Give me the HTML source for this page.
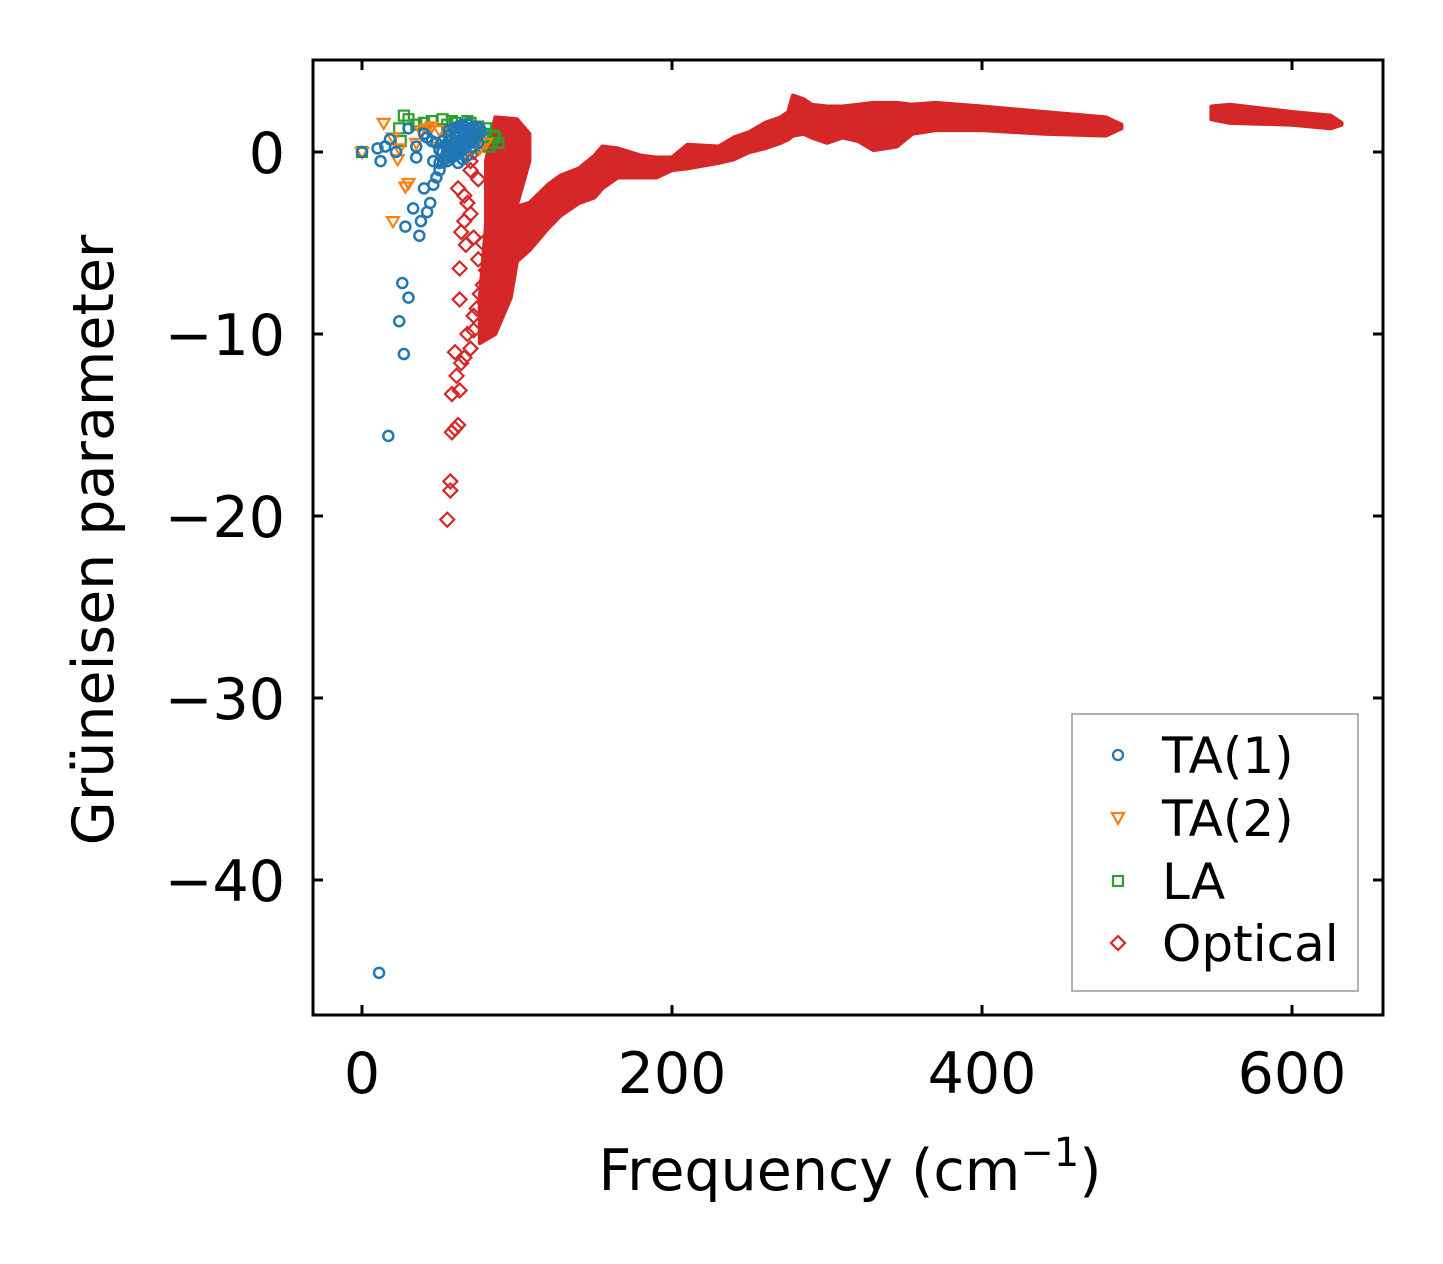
<!DOCTYPE html>
<html><head><meta charset="utf-8"><style>
body{margin:0;background:#fff;}
svg{display:block;font-family:"DejaVu Sans","Liberation Sans",sans-serif;}
</style></head><body>
<svg id="chart" width="1443" height="1264" viewBox="0 0 1443 1264" xmlns="http://www.w3.org/2000/svg">
<g id="plot"></g>
<rect x="313" y="60" width="1070" height="955" fill="none" stroke="#000" stroke-width="3"/>
<g id="ticks"></g>
<text x="850" y="1190" font-size="57" text-anchor="middle">Frequency (cm<tspan dy="-24" font-size="40">−1</tspan><tspan dy="24">)</tspan></text>
<text transform="translate(113,540) rotate(-90)" font-size="57" text-anchor="middle">Grüneisen parameter</text>
<g>
<rect x="1072" y="714" width="286" height="277" fill="#fff" stroke="#999" stroke-width="1.5"/>
<circle cx="1118" cy="755" r="5" fill="none" stroke="#1f77b4" stroke-width="2.2"/>
<text x="1162" y="773" font-size="50">TA(1)</text>
<path d="M1112,813 L1124,813 L1118,824 Z" fill="none" stroke="#ff7f0e" stroke-width="2.2"/>
<text x="1162" y="836" font-size="50">TA(2)</text>
<rect x="1113" y="876" width="10" height="10" fill="none" stroke="#2ca02c" stroke-width="2.2"/>
<text x="1162" y="899" font-size="50">LA</text>
<path d="M1118,936 L1125,943 L1118,950 L1111,943 Z" fill="none" stroke="#d62728" stroke-width="2.2"/>
<text x="1162" y="961" font-size="50">Optical</text>
</g>
</svg>
<script>
const xTicks=[0,200,400,600];
const yTicks=[0,-10,-20,-30,-40];
const wedgeF=[86,100,108,108,100,102,96,86,76,76,80,80];
const wedgeG=[1.9,1.8,1,-0.5,-2.9,-5,-8,-10,-10.5,-8,-4,-0.5];
const bandF=[100,108,120,128,140,150,155,165,180,190,200,210,230,240,250,260,270,275,278,285,290,300,310,320,330,345,355,370,400,440,480,490];
const bandTop=[-3,-2.8,-1.8,-1.3,-0.9,-0.2,0.3,0.2,-0.2,-0.3,-0.3,0.4,0.3,0.8,1.1,1.6,1.9,2.2,3.1,2.9,2.6,2.5,2.5,2.6,2.7,2.7,2.6,2.7,2.5,2.2,1.9,1.5];
const bandBot=[-6,-5.4,-4.2,-3.5,-2.8,-2.5,-2,-1.4,-1.4,-1.4,-1,-0.9,-0.6,-0.4,0,0.2,0.5,0.7,0.9,1,0.8,0.5,0.8,0.6,0.1,0.3,1,1.2,1.2,1,0.9,1.3];
const band2F=[548,560,600,625,632];
const band2Top=[2.5,2.6,2.2,2,1.6];
const band2Bot=[1.8,1.6,1.5,1.3,1.5];
const opticalF=[55,57,57,58,60,62,58,61,63,60,64,66,70,68,72,72,74,76,78,80,63,63,64,66,67,66,70,72,75,78,80,82,85,88,90,65,72,78,70,75,68,100,98,62,70];
const opticalG=[-20.2,-18.6,-18.1,-15.4,-15.2,-15,-13.3,-12.3,-13.1,-11,-11.6,-11.3,-10.8,-10,-9.8,-9,-8.6,-7.8,-7.3,-8.4,-8.1,-6.4,-4.4,-3.8,-5.1,-2.4,-3.4,-4.7,-5.9,-5,-6.5,-7,-6,-4,-3,0.5,0,0.5,-0.5,-1.5,-2.8,-0.5,-1.5,-2,-1];
const laF=[0,25,27,30,35,40,45,52,55,60,65,70,75,80,85,88,82,78,24,58,68,84,80,86,76,72];
const laG=[0,0.6,2,1.8,1.5,1.6,1.7,1.8,1.5,1.6,1.3,1.6,1.4,1.3,0.9,0.5,0.3,0.7,1.3,1.7,1.7,0.5,1,0.8,0.3,0.2];
const ta2F=[0,14,20,24,20,28,30,35,38,45,50,55,60,65,70,75,80,23,42,58,62,68,72,76,54,48];
const ta2G=[0,1.6,0.8,0.2,-3.8,-1.9,-1.7,0.5,1.2,1.4,1.2,0.8,1,0.5,1,0.6,0.5,-0.4,1.3,1.1,0.2,-0.3,0.8,0.2,-0.5,0.3];
const ta1F=[0,10,12,15,18,22,24,26,27,28,30,33,35,37,38,40,42,44,46,48,50,17,11,30,40,45,55,60,65,70,75,50,55,60,35,42,48,62,68,72,52,58,64,66,56,60,70,74,46,54,
 50,53,56,59,62,65,68,71,74,77,52,55,58,61,64,67,70,73,76,54,57,60,63,66,69,72,58,61,64,67,70,62,65,68,56,59,62,65,60,63,66,69,72];
const ta1G=[0,0.2,-0.5,0.3,0.7,0,-9.3,-7.2,-11.1,-4.1,-8,-3.1,-0.3,-4.6,-3.8,-2,-3.3,-2.8,-1.8,-1.4,-1,-15.6,-45.1,1.3,1,0.6,0.3,0.8,0.5,1,0.5,0.1,-0.5,-0.2,0.3,0.8,0.5,1,0.9,0.3,0.6,0.4,0.7,0.2,0.9,0.6,0.7,0.8,-0.5,-0.2,
 -0.6,-0.4,-0.2,0,0.2,0.4,0.6,0.8,1,1.1,0,0.1,0.3,0.5,0.7,0.9,1.1,1.2,1.3,0.4,0.6,0.8,1,1.2,1.3,1.4,-0.3,-0.1,0.1,0.3,0.5,-0.6,-0.4,-0.2,1.2,1.3,1.4,1.5,1.1,1.3,1.4,1.5,1.3];
const X=v=>362+v*1.55;
const Y=v=>152-v*18.2;
const NS="http://www.w3.org/2000/svg";
const plot=document.getElementById('plot');
const ticks=document.getElementById('ticks');
function mk(tag,attrs,parent){const e=document.createElementNS(NS,tag);for(const k in attrs)e.setAttribute(k,attrs[k]);parent.appendChild(e);return e;}
xTicks.forEach(t=>{
 const l=mk('line',{x1:X(t),x2:X(t),y1:1015,y2:1005,stroke:'#000','stroke-width':3},ticks);
 
 
 const l2=mk('line',{x1:X(t),x2:X(t),y1:60,y2:70,stroke:'#000','stroke-width':3},ticks);
 
 
 const tx=mk('text',{x:X(t),y:1093,'font-size':57,'text-anchor':'middle'},ticks);tx.textContent=t;
 
 
});
yTicks.forEach(t=>{
 const l=mk('line',{x1:313,x2:323,y1:Y(t),y2:Y(t),stroke:'#000','stroke-width':3},ticks);
 
 
 const l2=mk('line',{x1:1373,x2:1383,y1:Y(t),y2:Y(t),stroke:'#000','stroke-width':3},ticks);
 
 
 const tx=mk('text',{x:285,y:Y(t)+21,'font-size':57,'text-anchor':'end'},ticks);tx.textContent=(t<0?'−'+(-t):t);
 
 
});
function poly(pts,name){
 const p=mk('polygon',{points:pts.join(' '),fill:'#d62728',stroke:'#d62728','stroke-width':4,'stroke-linejoin':'round'},plot);
 
 
}
poly(wedgeF.map((f,i)=>X(f)+','+Y(wedgeG[i])),'optical-band-wedge');
function band(F,T,B,name){
 const pts=F.map((f,i)=>X(f)+','+Y(T[i])).concat(F.map((f,i)=>X(f)+','+Y(B[i])).reverse());
 poly(pts,name);
}
band(bandF,bandTop,bandBot,'optical-band-main');
band(band2F,band2Top,band2Bot,'optical-band-high');
opticalF.forEach((f,i)=>{const x=X(f),y=Y(opticalG[i]);
 const m=mk('path',{d:`M${x},${y-7} L${x+7},${y} L${x},${y+7} L${x-7},${y} Z`,fill:'none',stroke:'#d62728','stroke-width':2.2},plot);
 
 });
laF.forEach((f,i)=>{const x=X(f),y=Y(laG[i]);
 const m=mk('rect',{x:x-5,y:y-5,width:10,height:10,fill:'none',stroke:'#2ca02c','stroke-width':2.2},plot);
 
 });
ta2F.forEach((f,i)=>{const x=X(f),y=Y(ta2G[i]);
 const m=mk('path',{d:`M${x-6},${y-4} L${x+6},${y-4} L${x},${y+6} Z`,fill:'none',stroke:'#ff7f0e','stroke-width':2.2},plot);
 
 });
ta1F.forEach((f,i)=>{
 const m=mk('circle',{cx:X(f),cy:Y(ta1G[i]),r:5,fill:'none',stroke:'#1f77b4','stroke-width':2.5},plot);
 
 });
</script>
</body></html>
